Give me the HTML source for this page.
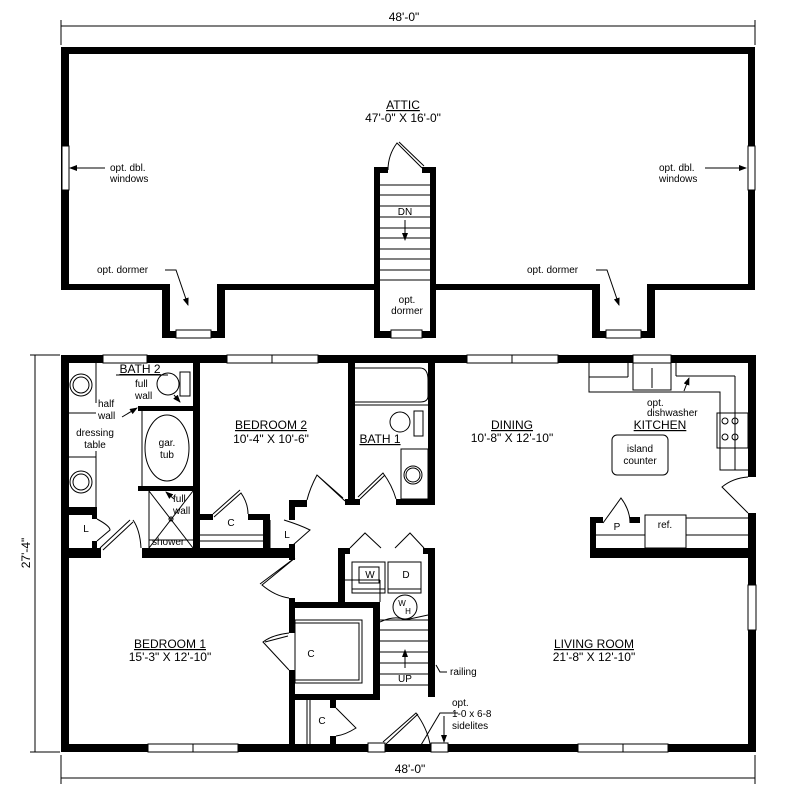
<!DOCTYPE html>
<html><head><meta charset="utf-8">
<style>
html,body{margin:0;padding:0;background:#fff;}
svg{display:block;}
text{font-family:"Liberation Sans",sans-serif;fill:#000;}
</style></head><body>
<svg width="790" height="802" viewBox="0 0 790 802" xmlns="http://www.w3.org/2000/svg">
<defs>
<marker id="ar" markerWidth="8" markerHeight="6" refX="7" refY="3" orient="auto"><path d="M0,0 L8,3 L0,6 Z" fill="#000"/></marker>
</defs>
<g stroke="#000" stroke-width="1" fill="none">
<line x1="61" y1="26" x2="755" y2="26"/>
<line x1="61" y1="20" x2="61" y2="45"/><line x1="755" y1="20" x2="755" y2="45"/>
<line x1="61" y1="778" x2="755" y2="778"/>
<line x1="61" y1="755" x2="61" y2="784"/><line x1="755" y1="755" x2="755" y2="784"/>
<line x1="35" y1="355" x2="35" y2="752"/>
<line x1="30" y1="355" x2="60" y2="355"/><line x1="30" y1="752" x2="60" y2="752"/>
</g>

<g fill="#000">
<rect x="61" y="47" width="694" height="7"/>
<rect x="61" y="47" width="8" height="243"/>
<rect x="748" y="47" width="7" height="243"/>
<rect x="61" y="284" width="109" height="6"/>
<rect x="217" y="284" width="160" height="6"/>
<rect x="434" y="284" width="166" height="6"/>
<rect x="647" y="284" width="108" height="6"/>
<rect x="162" y="284" width="8" height="54"/>
<rect x="217" y="284" width="8" height="54"/>
<rect x="162" y="331" width="63" height="7"/>
<rect x="592" y="284" width="8" height="54"/>
<rect x="647" y="284" width="8" height="54"/>
<rect x="592" y="331" width="63" height="7"/>
<rect x="374" y="167" width="6" height="171"/>
<rect x="430" y="167" width="6" height="171"/>
<rect x="374" y="167" width="14" height="6"/>
<rect x="422" y="167" width="14" height="6"/>
<rect x="374" y="331" width="62" height="7"/>
</g>
<g fill="#fff" stroke="#000" stroke-width="1">
<rect x="62" y="146" width="7" height="44"/>
<rect x="748" y="146" width="7" height="44"/>
<rect x="176" y="330" width="35" height="8"/>
<rect x="606" y="330" width="35" height="8"/>
<rect x="391" y="330" width="31" height="8"/>
</g>
<g stroke="#000" stroke-width="1" fill="none">
<line x1="380" y1="185" x2="430" y2="185"/><line x1="380" y1="195" x2="430" y2="195"/>
<line x1="380" y1="206" x2="430" y2="206"/><line x1="380" y1="217" x2="430" y2="217"/>
<line x1="380" y1="228" x2="430" y2="228"/><line x1="380" y1="238" x2="430" y2="238"/>
<line x1="380" y1="249" x2="430" y2="249"/><line x1="380" y1="259" x2="430" y2="259"/>
<line x1="380" y1="270" x2="430" y2="270"/><line x1="380" y1="280" x2="430" y2="280"/>
<line x1="405" y1="220" x2="405" y2="240" marker-end="url(#ar)"/>
<path d="M388,170 Q388,155 397,143 L422,168 M399,142 L424,166"/>
<line x1="105" y1="168" x2="70" y2="168" marker-end="url(#ar)"/>
<line x1="705" y1="168" x2="746" y2="168" marker-end="url(#ar)"/>
<path d="M165,270 L176,270 L188,305" marker-end="url(#ar)"/>
<path d="M596,270 L607,270 L619,305" marker-end="url(#ar)"/>
</g>
<g font-size="11" text-anchor="middle">
<text x="404" y="21" font-size="12">48'-0"</text>
<text x="403" y="109" font-size="12" text-decoration="underline">ATTIC</text>
<text x="403" y="122" font-size="12">47'-0"  X  16'-0"</text>
<text x="405" y="215" font-size="10">DN</text>
<text x="407" y="303" font-size="10">opt.</text>
<text x="407" y="314" font-size="10">dormer</text>
</g>
<g font-size="10">
<text x="110" y="171">opt. dbl.</text><text x="110" y="182">windows</text>
<text x="659" y="171">opt. dbl.</text><text x="659" y="182">windows</text>
<text x="97" y="273">opt. dormer</text>
<text x="527" y="273">opt. dormer</text>
</g>

<g fill="#000">
<rect x="61" y="355" width="694" height="8"/>
<rect x="61" y="355" width="8" height="397"/>
<rect x="61" y="744" width="694" height="8"/>
<rect x="748" y="355" width="8" height="122"/>
<rect x="748" y="513" width="8" height="239"/>
<rect x="193" y="355" width="7" height="203"/>
<rect x="348" y="355" width="7" height="150"/>
<rect x="428" y="355" width="7" height="150"/>
<rect x="345" y="499" width="15" height="6"/>
<rect x="396" y="499" width="39" height="6"/>
<rect x="199" y="514" width="14" height="6"/>
<rect x="248" y="514" width="17" height="6"/>
<rect x="263" y="514" width="7" height="44"/>
<rect x="289" y="500" width="18" height="7"/>
<rect x="289" y="500" width="6" height="20"/>
<rect x="138" y="406" width="55" height="5"/>
<rect x="138" y="486" width="55" height="5"/>
<rect x="61" y="507" width="36" height="8"/>
<rect x="92" y="507" width="5" height="12"/>
<rect x="92" y="541" width="5" height="17"/>
<rect x="61" y="548" width="40" height="10"/>
<rect x="142" y="548" width="153" height="10"/>
<rect x="289" y="544" width="6" height="16"/>
<rect x="289" y="598" width="6" height="35"/>
<rect x="289" y="670" width="6" height="82"/>
<rect x="289" y="602" width="91" height="6"/>
<rect x="373" y="602" width="7" height="98"/>
<rect x="289" y="694" width="91" height="6"/>
<rect x="338" y="548" width="12" height="6"/>
<rect x="423" y="548" width="12" height="6"/>
<rect x="338" y="548" width="7" height="60"/>
<rect x="428" y="548" width="7" height="149"/>
<rect x="330" y="700" width="6" height="8"/>
<rect x="330" y="736" width="6" height="10"/>
<rect x="590" y="517" width="13" height="6"/>
<rect x="590" y="517" width="6" height="41"/>
<rect x="590" y="548" width="166" height="10"/>
<rect x="630" y="517" width="10" height="6"/>
</g>
<g fill="#fff" stroke="#000" stroke-width="1">
<rect x="103" y="355" width="44" height="8"/>
<rect x="227" y="355" width="91" height="8"/><line x1="272" y1="355" x2="272" y2="363"/>
<rect x="467" y="355" width="91" height="8"/><line x1="512" y1="355" x2="512" y2="363"/>
<rect x="633" y="355" width="38" height="8"/>
<rect x="148" y="744" width="90" height="8"/><line x1="193" y1="744" x2="193" y2="752"/>
<rect x="578" y="744" width="90" height="8"/><line x1="623" y1="744" x2="623" y2="752"/>
<rect x="748" y="585" width="8" height="45"/>
<rect x="368" y="743" width="17" height="9"/>
<rect x="431" y="743" width="17" height="9"/>
</g>
<g stroke="#000" stroke-width="1" fill="none">
<line x1="96" y1="363" x2="96" y2="403"/>
<line x1="96" y1="451" x2="96" y2="507"/>
<line x1="69" y1="413" x2="96" y2="413"/><line x1="69" y1="457" x2="96" y2="457"/>
<circle cx="81" cy="385" r="11"/><circle cx="81" cy="385" r="8"/>
<circle cx="81" cy="482" r="11"/><circle cx="81" cy="482" r="8"/>
<circle cx="168" cy="384" r="11"/>
<rect x="180" y="372" width="10" height="24"/>
<line x1="116" y1="375" x2="168" y2="375"/>
<line x1="142" y1="411" x2="142" y2="486"/>
<ellipse cx="167" cy="448" rx="22" ry="33"/>
<line x1="149" y1="491" x2="149" y2="548"/>
<line x1="149" y1="491" x2="193" y2="548"/><line x1="193" y1="491" x2="149" y2="548"/>
<circle cx="171" cy="519" r="2"/>
<line x1="149" y1="540" x2="193" y2="540"/>
<path d="M100,548 L130,520 M103,550 L133,522 M133,520 Q140,530 141,548"/>
<path d="M97,519 Q110,526 110,530 L97,541"/>
<path d="M213,514 L240,490 M214,517 L241,493 Q248,503 248,514"/>
<path d="M200,535 L263,535 M200,541 L263,541"/>
<path d="M270,520 L270,548"/>
<path d="M284,520 Q300,525 310,530 L293,545"/>
<path d="M307,500 Q310,488 317,475 L343,498 M318,476 L345,501"/>
<path d="M360,499 L385,475 M358,497 L383,473 Q392,485 396,499"/>
<path d="M295,558 L262,585 Q275,596 289,598 M292,560 L260,584"/>
<path d="M289,633 Q272,635 263,642 L289,670 M288,636 L265,642"/>
<path d="M336,708 L356,728 Q345,735 336,736"/>
<line x1="307" y1="700" x2="307" y2="744"/><line x1="310" y1="700" x2="310" y2="744"/>
<path d="M386,744 L418,714 M383,742 L416,713 Q427,728 430,744"/>
<path d="M350,548 L365,533 L381,548 M395,548 L410,533 L424,548"/>
<path d="M355,368 L420,368 Q428,368 428,380 L428,396 Q428,402 420,402 L355,402"/>
<line x1="355" y1="405" x2="428" y2="405"/>
<circle cx="400" cy="422" r="10"/><rect x="414" y="411" width="9" height="25"/>
<rect x="401" y="449" width="27" height="50"/>
<circle cx="413" cy="475" r="9"/><circle cx="413" cy="475" r="7"/>
<rect x="295" y="620" width="67" height="63"/><rect x="295" y="623" width="64" height="57"/>
<rect x="352" y="562" width="33" height="31"/><rect x="359" y="567" width="20" height="16"/>
<rect x="388" y="562" width="33" height="31"/>
<line x1="345" y1="580" x2="380" y2="580"/><line x1="380" y1="580" x2="380" y2="602"/>
<line x1="352" y1="589" x2="385" y2="589"/><line x1="388" y1="589" x2="421" y2="589"/>
<circle cx="405" cy="607" r="12"/>
<line x1="380" y1="620" x2="428" y2="620"/><line x1="380" y1="630" x2="428" y2="630"/>
<line x1="380" y1="641" x2="428" y2="641"/><line x1="380" y1="652" x2="428" y2="652"/>
<line x1="380" y1="663" x2="428" y2="663"/><line x1="380" y1="674" x2="428" y2="674"/>
<line x1="380" y1="685" x2="428" y2="685"/>
<line x1="405" y1="668" x2="405" y2="650" marker-end="url(#ar)"/>
<path d="M380,622 Q395,615 405,620 L428,615"/>
<path d="M447,672 L440,672 L436,665"/>
<path d="M458,713 L440,713 L421,745"/>
<line x1="444" y1="716" x2="444" y2="742" marker-end="url(#ar)"/>
<path d="M589,363 L589,392 L720,392 L720,470 L748,470"/>
<line x1="589" y1="377" x2="628" y2="377"/>
<line x1="628" y1="363" x2="628" y2="377"/>
<rect x="633" y="363" width="38" height="27"/>
<line x1="652" y1="368" x2="652" y2="388"/>
<line x1="676" y1="363" x2="676" y2="376"/><line x1="676" y1="376" x2="735" y2="376"/>
<line x1="735" y1="376" x2="735" y2="470"/>
<rect x="717" y="413" width="31" height="35"/>
<circle cx="725" cy="421" r="3"/><circle cx="735" cy="421" r="3"/>
<circle cx="725" cy="437" r="3"/><circle cx="735" cy="437" r="3"/>
<rect x="612" y="435" width="56" height="40" rx="5"/>
<path d="M748,477 Q733,478 722,487 L748,513"/>
<path d="M603,523 L621,498 Q630,510 630,523"/>
<rect x="645" y="515" width="41" height="33"/>
<line x1="686" y1="518" x2="748" y2="518"/><line x1="686" y1="535" x2="748" y2="535"/>
<line x1="596" y1="535" x2="645" y2="535"/>
<line x1="684" y1="391" x2="689" y2="378" marker-end="url(#ar)"/>
<line x1="174" y1="395" x2="180" y2="402" marker-end="url(#ar)"/>
<line x1="122" y1="417" x2="137" y2="408" marker-end="url(#ar)"/>
<line x1="174" y1="499" x2="166" y2="492" marker-end="url(#ar)"/>
</g>
<g font-size="10">
<text x="98" y="407">half</text><text x="98" y="419">wall</text>
<text x="135" y="387">full</text><text x="135" y="399">wall</text>
<text x="173" y="502">full</text><text x="173" y="514">wall</text>
<text x="152" y="545">shower</text>
<text x="450" y="675">railing</text>
<text x="452" y="706">opt.</text><text x="452" y="717">1-0 x 6-8</text><text x="452" y="729">sidelites</text>
<text x="647" y="406">opt.</text><text x="647" y="416">dishwasher</text>
</g>
<g font-size="10" text-anchor="middle">
<text x="95" y="436">dressing</text><text x="95" y="448">table</text>
<text x="167" y="446">gar.</text><text x="167" y="458">tub</text>
<text x="640" y="452">island</text><text x="640" y="464">counter</text>
<text x="617" y="530">P</text><text x="665" y="528">ref.</text>
<text x="231" y="526">C</text><text x="86" y="532">L</text><text x="287" y="538">L</text>
<text x="370" y="578">W</text><text x="406" y="578">D</text>
<text x="311" y="657">C</text><text x="322" y="724">C</text>
<text x="405" y="682">UP</text>
<text x="402" y="606" font-size="8">W</text><text x="408" y="614" font-size="8">H</text>
</g>
<g font-size="12" text-anchor="middle">
<text x="140" y="373" text-decoration="underline">BATH 2</text>
<text x="271" y="429" text-decoration="underline">BEDROOM 2</text>
<text x="271" y="443">10'-4"  X  10'-6"</text>
<text x="380" y="443" text-decoration="underline">BATH 1</text>
<text x="512" y="429" text-decoration="underline">DINING</text>
<text x="512" y="442">10'-8"  X  12'-10"</text>
<text x="660" y="429" text-decoration="underline">KITCHEN</text>
<text x="170" y="648" text-decoration="underline">BEDROOM 1</text>
<text x="170" y="661">15'-3"  X  12'-10"</text>
<text x="594" y="648" text-decoration="underline">LIVING ROOM</text>
<text x="594" y="661">21'-8"  X  12'-10"</text>
<text x="410" y="773">48'-0"</text>
<text x="0" y="0" transform="translate(30,553) rotate(-90)">27'-4"</text>
</g>
</svg>
</body></html>
